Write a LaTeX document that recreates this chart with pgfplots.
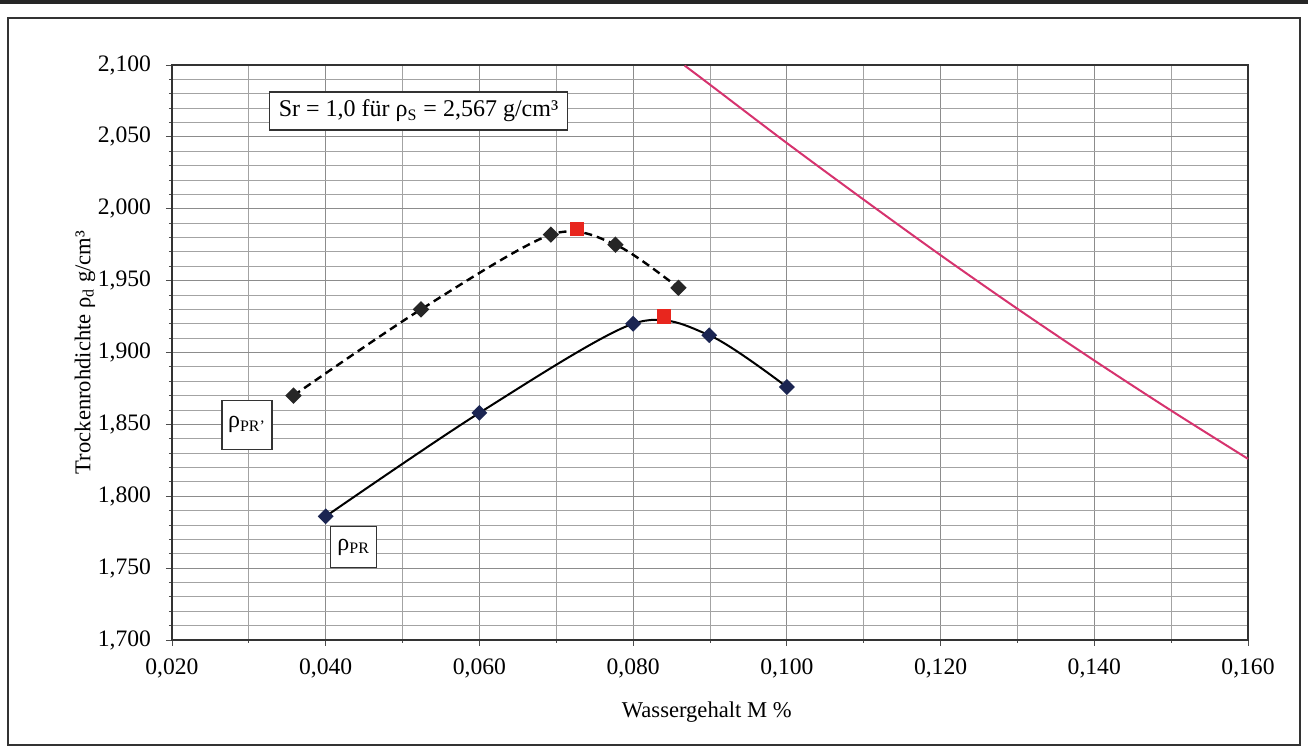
\documentclass[border=0pt]{standalone}
\usepackage{fontspec}
\setmainfont{Liberation Serif}
\usepackage{pgfplots}
\pgfplotsset{compat=1.18}
\definecolor{satline}{HTML}{D6336E}
\definecolor{navy}{HTML}{1B2552}
\definecolor{mred}{HTML}{E8261E}
\definecolor{gridc}{HTML}{8C8C8C}
\begin{document}
\begin{tikzpicture}
\useasboundingbox (0,0) rectangle (654pt,376.5pt);
\fill[black!85] (0,374.5pt) rectangle (654pt,376.5pt);
\draw[line width=0.8pt, black!80] (4pt,4pt) rectangle (650pt,367.5pt);
\begin{axis}[
  at={(86pt,56.5pt)}, anchor=south west,
  scale only axis, width=538pt, height=287.5pt,
  xmin=0.02, xmax=0.16, ymin=1.7, ymax=2.1,
  xtick={0.02,0.04,...,0.161}, minor x tick num=1,
  ytick={1.7,1.75,...,2.101}, minor y tick num=4,
  grid=both,
  major grid style={gridc, line width=0.5pt},
  minor grid style={gridc!80, line width=0.45pt},
  axis line style={line width=0.8pt, black!80},
  tick align=outside, major tick length=3pt, minor tick length=1.5pt,
  tick style={black!70, line width=0.4pt},
  xtick pos=bottom, ytick pos=left,
  /pgf/number format/assume math mode=true,
  /pgf/number format/.cd, fixed, fixed zerofill, precision=3, use comma, 1000 sep={},
  /pgfplots/.cd,
  scaled ticks=false,
  tick label style={font=\rmfamily\fontsize{11.8}{14}\selectfont},
  yticklabel style={xshift=-4pt},
  xticklabel style={yshift=-3pt},
  label style={font=\rmfamily\fontsize{11.3}{14}\selectfont},
  xlabel={Wassergehalt M \%},
  xlabel style={at={(axis description cs:0.497,-0.125)}, anchor=center},
  ylabel={Trockenrohdichte ρ\textsubscript{d} g/cm³},
  ylabel style={at={(axis description cs:-0.081,0.5)}, anchor=center},
  clip=false,
]
% saturation line Sr = 1.0
\addplot[satline, line width=1pt, smooth] coordinates {
  (0.0867,2.0996) (0.090,2.0863) (0.100,2.0457) (0.110,2.0063) (0.120,1.9677)
  (0.130,1.9304) (0.140,1.8944) (0.150,1.8596) (0.160,1.8260)};
% rho_PR' (dashed)
\addplot[black, line width=1.2pt, dash pattern=on 4pt off 2.5pt, smooth, tension=0.5,
  mark=square*, mark size=2.3pt, mark options={solid, rotate=45, fill=black!85, draw=black!85}]
  coordinates {(0.0358,1.870) (0.0524,1.930) (0.0693,1.982) (0.0777,1.975) (0.0859,1.945)};
% rho_PR (solid)
\addplot[black, line width=1pt, smooth, tension=0.5,
  mark=square*, mark size=2.3pt, mark options={rotate=45, fill=navy, draw=navy}]
  coordinates {(0.040,1.786) (0.060,1.858) (0.080,1.920) (0.0899,1.912) (0.100,1.876)};
% Proctor maxima
\addplot[only marks, mark=square*, mark size=3.4pt, mark options={fill=mred, draw=mred}]
  coordinates {(0.0727,1.986) (0.0840,1.925)};
\node[draw=black!80, fill=white, line width=0.6pt, inner xsep=4.5pt, inner ysep=4pt,
  font=\rmfamily\fontsize{12}{14}\selectfont] at (axis cs:0.05207,2.068)
  {Sr = 1,0 für ρ\textsubscript{S} = 2,567 g/cm³};
\node[draw=black!80, fill=white, line width=0.6pt, minimum width=25pt, minimum height=24.5pt,
  inner sep=1pt, font=\rmfamily\fontsize{12}{14}\selectfont] at (axis cs:0.02976,1.8498)
  {ρ\textsubscript{PR'}};
\node[draw=black!80, fill=white, line width=0.6pt, minimum width=23pt, minimum height=20.5pt,
  inner sep=1pt, font=\rmfamily\fontsize{12}{14}\selectfont] at (axis cs:0.04365,1.7647)
  {ρ\textsubscript{PR}};
\end{axis}
\end{tikzpicture}
\end{document}
